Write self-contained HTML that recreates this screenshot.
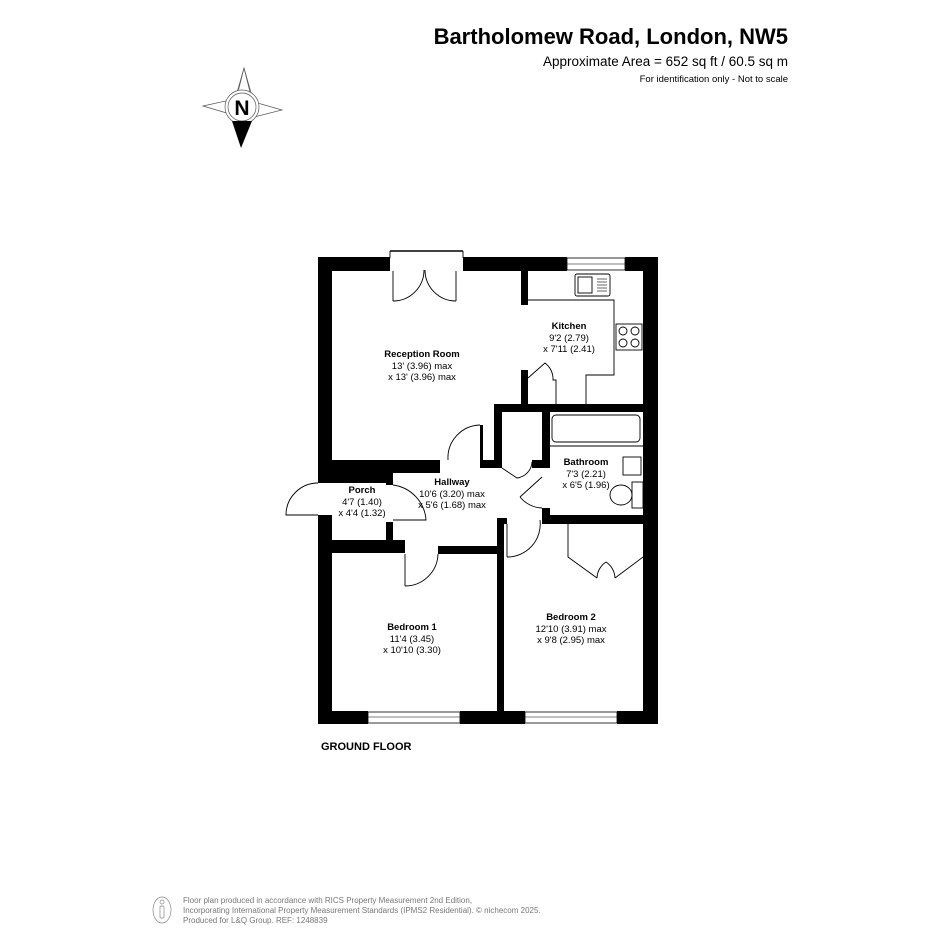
<!DOCTYPE html>
<html><head><meta charset="utf-8"><style>
html,body{margin:0;padding:0;background:#fff;}
svg{display:block;font-family:"Liberation Sans",Arial,sans-serif;}
</style></head><body>
<svg width="945" height="945" viewBox="0 0 945 945" xmlns="http://www.w3.org/2000/svg">
<rect width="945" height="945" fill="#fff"/>
<text x="788" y="44" text-anchor="end" font-size="22" font-weight="bold" fill="#000">Bartholomew Road, London, NW5</text>
<text x="788" y="66" text-anchor="end" font-size="13.5" fill="#000">Approximate Area = 652 sq ft / 60.5 sq m</text>
<text x="788" y="82" text-anchor="end" font-size="9.5" fill="#000">For identification only - Not to scale</text>
<g stroke="#555" stroke-width="0.7" fill="#fff">
<polygon points="244,68 236,96 252,96"/>
<polygon points="203,106 230,100 230,114"/>
<polygon points="282,110 254,102 254,117"/>
<polygon points="236,100 244,68 252,100"/>
<circle cx="242" cy="107" r="17"/>
<circle cx="242" cy="107" r="14"/>
</g>
<polygon points="232,121 252,121 241,148" fill="#000"/>
<text x="242" y="115" text-anchor="middle" font-size="21" font-weight="bold" fill="#000">N</text>
<g fill="#000">
<rect x="318" y="257" width="72" height="14"/>
<rect x="463" y="257" width="104" height="14"/>
<rect x="625" y="257" width="33" height="14"/>
<rect x="643" y="257" width="15" height="467"/>
<rect x="318" y="257" width="14" height="226"/>
<rect x="318" y="515" width="14" height="209"/>
<rect x="318" y="711" width="50" height="13"/>
<rect x="460" y="711" width="65" height="13"/>
<rect x="617" y="711" width="41" height="13"/>
<rect x="521" y="271" width="7" height="34"/>
<rect x="521" y="370" width="7" height="36"/>
<rect x="494" y="404" width="149" height="8"/>
<rect x="332" y="460" width="108" height="13"/>
<rect x="480" y="425" width="3" height="35"/>
<rect x="480" y="460" width="22" height="8"/>
<rect x="494" y="404" width="8" height="64"/>
<rect x="532" y="460" width="18" height="8"/>
<rect x="542" y="404" width="8" height="64"/>
<rect x="542" y="508" width="8" height="16"/>
<rect x="542" y="515" width="101" height="9"/>
<rect x="318" y="473" width="75" height="10"/>
<rect x="386" y="473" width="7" height="12"/>
<rect x="386" y="522" width="7" height="28"/>
<rect x="318" y="540" width="87" height="13"/>
<rect x="438" y="546" width="66" height="8"/>
<rect x="497" y="518" width="7" height="200"/>
<rect x="504" y="518" width="3" height="6"/>
</g>
<g fill="#fff" stroke="#000" stroke-width="0.8">
<rect x="567" y="258" width="58" height="12"/>
<rect x="368" y="712" width="92" height="11"/>
<rect x="525" y="712" width="92" height="11"/>
</g>
<g stroke="#000" stroke-width="0.6"><line x1="567" y1="264" x2="625" y2="264"/><line x1="368" y1="717" x2="460" y2="717"/><line x1="525" y1="717" x2="617" y2="717"/></g>
<g fill="none" stroke="#000" stroke-width="0.9">
<line x1="390" y1="251" x2="463" y2="251" stroke-width="1.5"/>
<line x1="390" y1="251" x2="390" y2="258"/><line x1="463" y1="251" x2="463" y2="258"/>
<line x1="393" y1="271" x2="393" y2="301"/><line x1="456" y1="271" x2="456" y2="301"/>
<path d="M393,301 A31,31 0 0 0 424,270"/>
<path d="M456,301 A31,31 0 0 1 425,270"/>
<path d="M528,300 L614,300 L614,375 L586,375 L586,404"/>
<path d="M528,378 L545,363 A20,20 0 0 1 553,380 L556,380 L556,404"/>
<rect x="575" y="274" width="35" height="22" rx="2"/>
<rect x="578" y="277" width="14" height="16"/>
<g stroke-width="0.6"><line x1="597" y1="279" x2="607" y2="279"/><line x1="597" y1="282" x2="607" y2="282"/><line x1="597" y1="285" x2="607" y2="285"/><line x1="597" y1="288" x2="607" y2="288"/><line x1="597" y1="291" x2="607" y2="291"/></g>
<rect x="616" y="324" width="26" height="26"/>
<circle cx="623" cy="331" r="4"/><circle cx="635" cy="331" r="4"/><circle cx="623" cy="343" r="4"/><circle cx="635" cy="343" r="4"/>
<rect x="552" y="415" width="88" height="27" rx="4"/>
<line x1="550" y1="446" x2="643" y2="446"/>
<rect x="623" y="457" width="18" height="18"/>
<rect x="632" y="482" width="11" height="26"/>
<ellipse cx="621" cy="495" rx="11" ry="10"/>
<path d="M448,460 A33,33 0 0 1 480,425"/>
<path d="M502,468 L517,478 A17,17 0 0 0 532,462"/>
<path d="M520,497 L542,477"/>
<path d="M520,497 A30,30 0 0 0 542,508"/>
<path d="M318,483 A32,32 0 0 0 286,515 L318,515"/>
<path d="M393,485 A38,38 0 0 1 426,520 L393,520"/>
<line x1="405" y1="554" x2="405" y2="586"/>
<path d="M405,586 A33,33 0 0 0 438,554"/>
<line x1="507" y1="524" x2="507" y2="557"/>
<path d="M507,557 A33,33 0 0 0 540,520"/>
<path d="M568,524 L568,557 L597,578 M615,578 L643,557"/>
<path d="M597,578 A20,20 0 0 1 606,562 M615,578 A20,20 0 0 0 606,562"/>
</g>
<g font-size="9.5" fill="#000" text-anchor="middle">
<text x="422" y="357" font-weight="bold">Reception Room</text>
<text x="422" y="369">13' (3.96) max</text>
<text x="422" y="380">x 13' (3.96) max</text>
<text x="569" y="329" font-weight="bold">Kitchen</text>
<text x="569" y="341">9'2 (2.79)</text>
<text x="569" y="352">x 7'11 (2.41)</text>
<text x="586" y="465" font-weight="bold">Bathroom</text>
<text x="586" y="477">7'3 (2.21)</text>
<text x="586" y="488">x 6'5 (1.96)</text>
<text x="362" y="493" font-weight="bold">Porch</text>
<text x="362" y="505">4'7 (1.40)</text>
<text x="362" y="516">x 4'4 (1.32)</text>
<text x="452" y="485" font-weight="bold">Hallway</text>
<text x="452" y="497">10'6 (3.20) max</text>
<text x="452" y="508">x 5'6 (1.68) max</text>
<text x="412" y="630" font-weight="bold">Bedroom 1</text>
<text x="412" y="642">11'4 (3.45)</text>
<text x="412" y="653">x 10'10 (3.30)</text>
<text x="571" y="620" font-weight="bold">Bedroom 2</text>
<text x="571" y="632">12'10 (3.91) max</text>
<text x="571" y="643">x 9'8 (2.95) max</text>
</g>
<text x="321" y="750" font-size="11" font-weight="bold" fill="#000">GROUND FLOOR</text>
<g stroke="#888" fill="none" stroke-width="0.7">
<ellipse cx="162" cy="910" rx="9" ry="13"/>
<circle cx="162" cy="902" r="2"/>
<rect x="160" y="906" width="4" height="12" rx="1"/>
</g>
<g font-size="8" fill="#777">
<text x="183" y="903">Floor plan produced in accordance with RICS Property Measurement 2nd Edition,</text>
<text x="183" y="913">Incorporating International Property Measurement Standards (IPMS2 Residential).   © nichecom 2025.</text>
<text x="183" y="923">Produced for L&amp;Q Group.   REF:    1248839</text>
</g>
</svg>
</body></html>
